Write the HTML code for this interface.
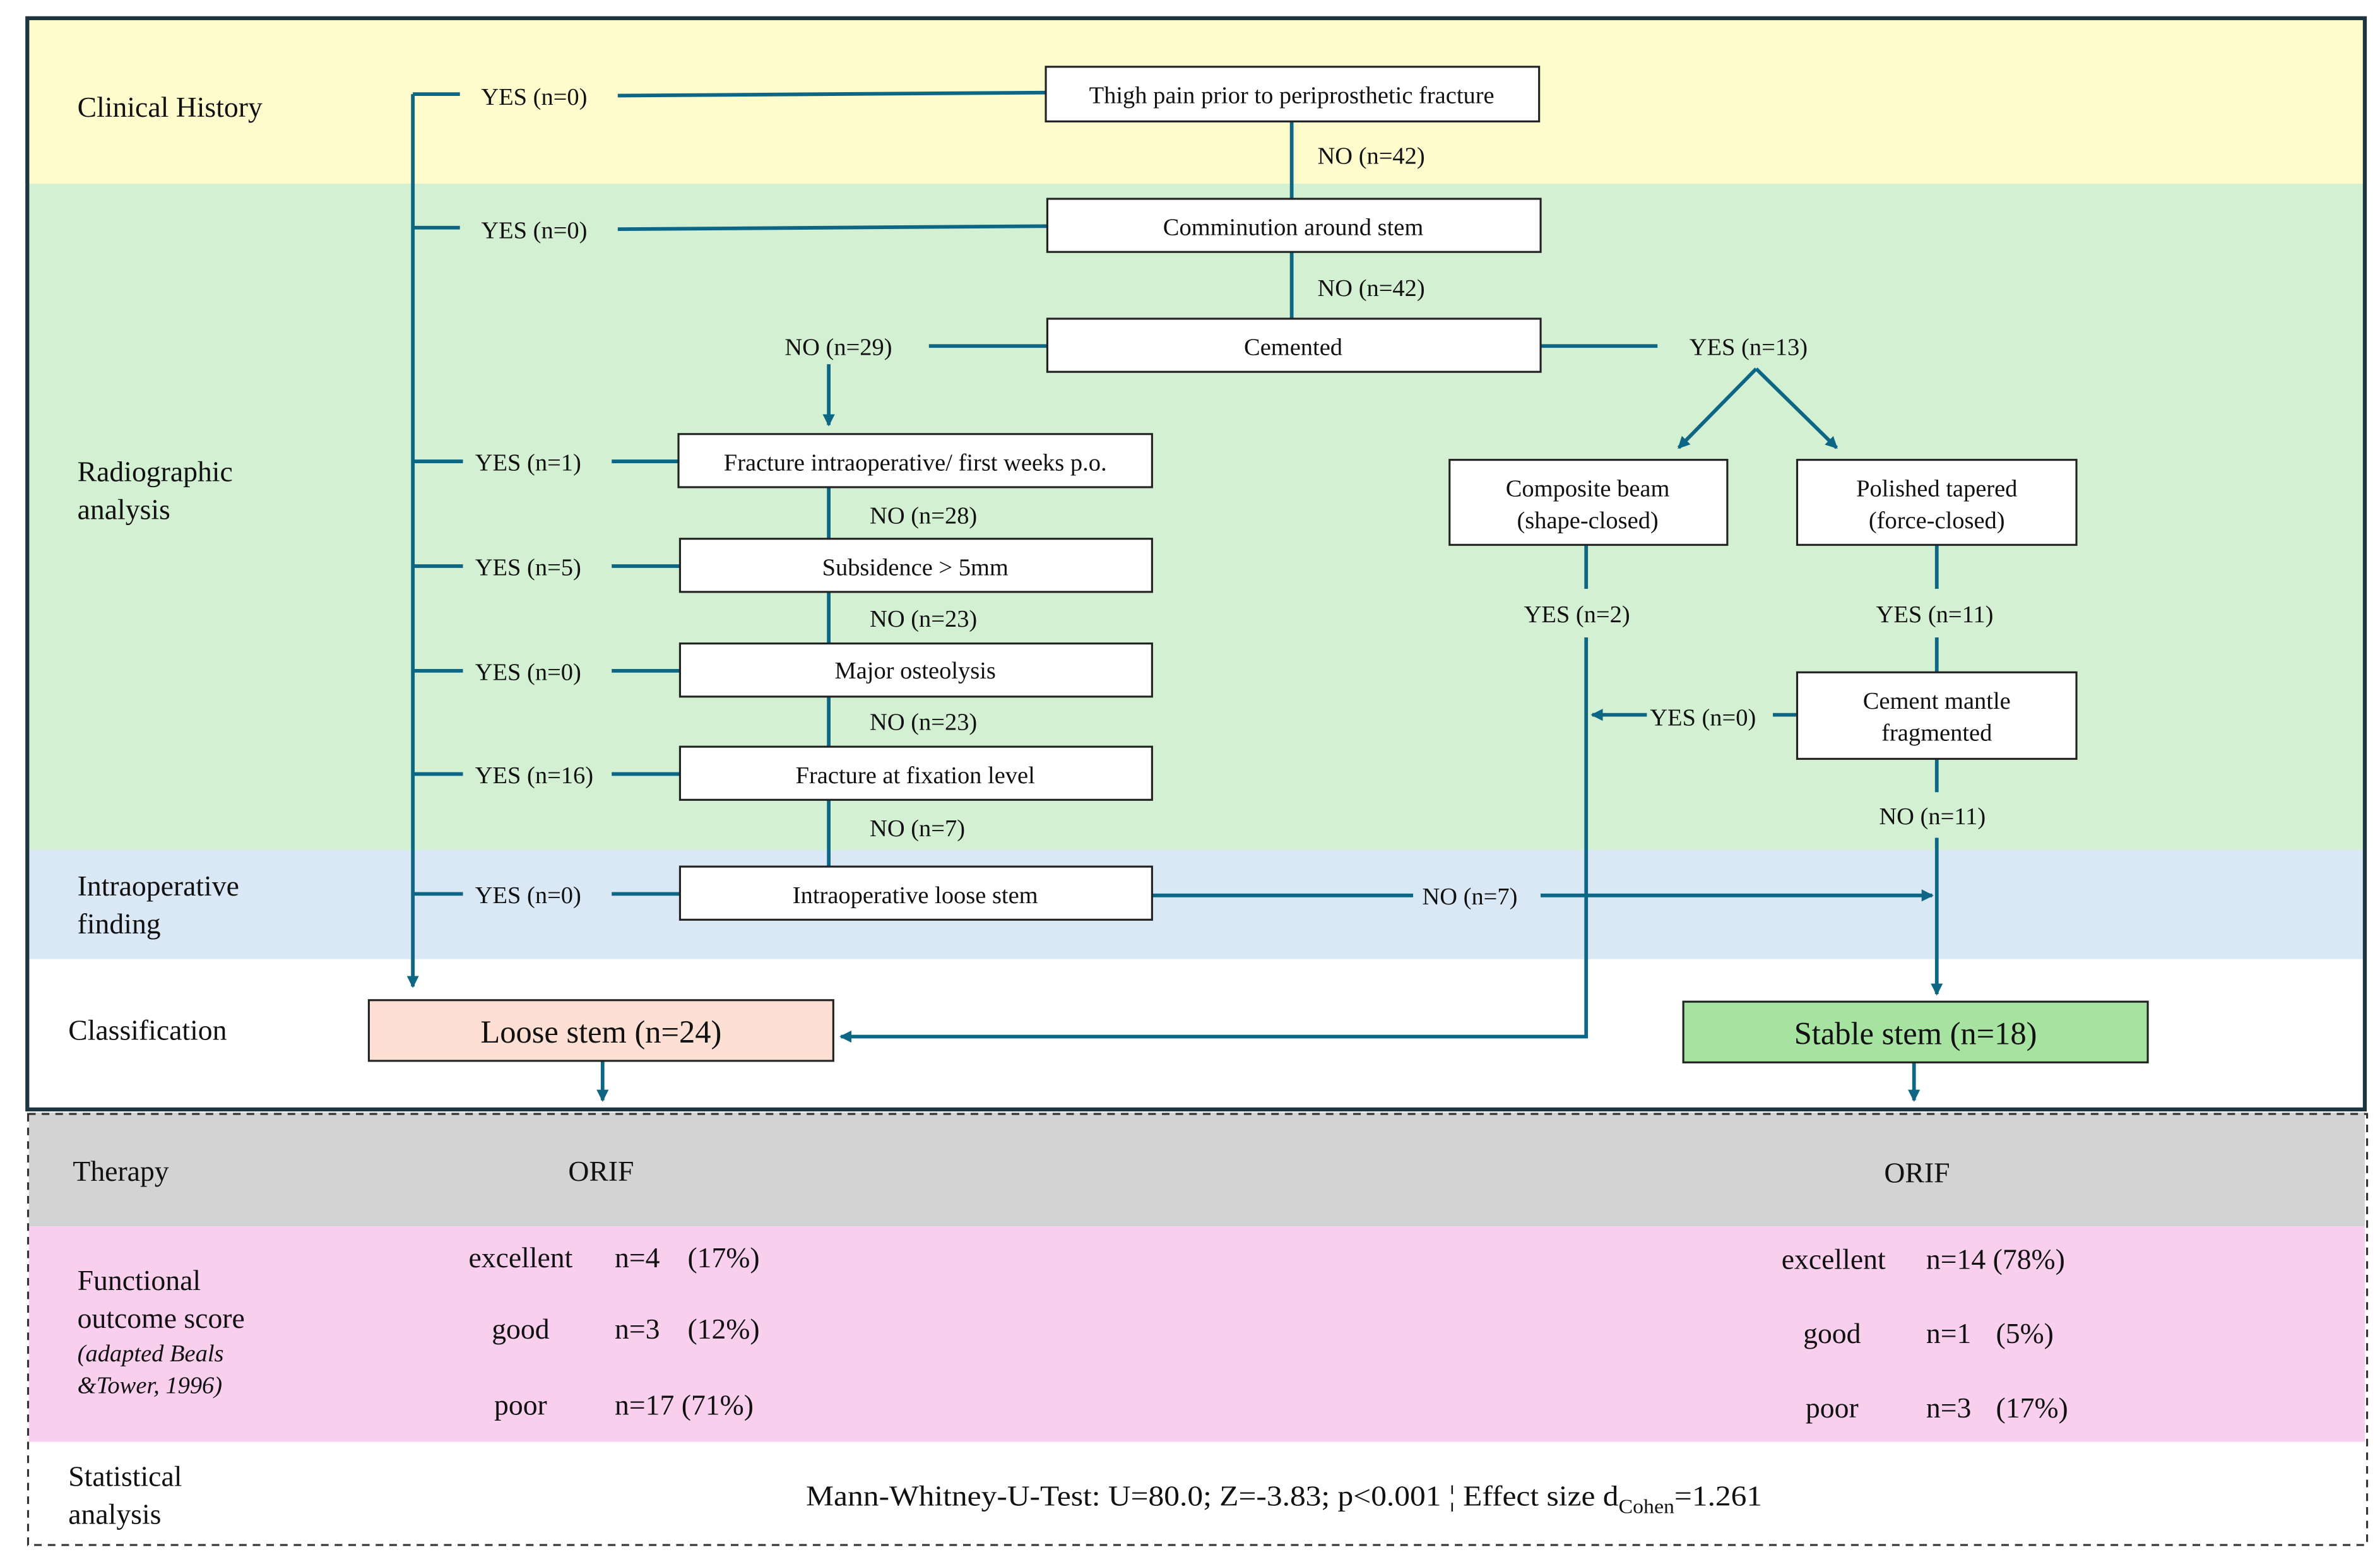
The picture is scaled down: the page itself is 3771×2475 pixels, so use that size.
<!DOCTYPE html>
<html><head><meta charset="utf-8"><style>
html,body{margin:0;padding:0;background:#fff}
svg{display:block}
svg text{font-family:"Liberation Serif","Times New Roman",Times,serif;fill:#111}
</style></head><body>
<svg width="3771" height="2475" viewBox="0 0 1568 1029.2" preserveAspectRatio="none" xmlns="http://www.w3.org/2000/svg" font-family="Liberation Serif, Times New Roman, serif">
<defs>
<marker id="a" markerWidth="8" markerHeight="8" refX="7" refY="4" orient="auto" markerUnits="userSpaceOnUse" viewBox="0 0 8 8"><path d="M0,0 L8,4 L0,8 z" fill="#0e6685"/></marker>
</defs>
<rect x="19" y="13" width="1538" height="108" fill="#fefccc"/>
<rect x="19" y="121" width="1538" height="439" fill="#d3f0d3"/>
<rect x="19" y="560" width="1538" height="72" fill="#dae8f5"/>
<rect x="19" y="733" width="1539" height="75" fill="#d3d3d3"/>
<rect x="19" y="808" width="1539" height="142" fill="#f8d0ee"/>
<rect x="18.5" y="734" width="1541" height="284" fill="none" stroke="#333" stroke-width="1.3" stroke-dasharray="5,4"/>
<rect x="18" y="12" width="1540" height="719" fill="none" stroke="#1d3540" stroke-width="2.6"/>

<g stroke="#0e6685" stroke-width="2.4" fill="none">
<path d="M272,62 V650" marker-end="url(#a)"/>
<path d="M272,62 H303 M407,63 L689,61"/>
<path d="M272,150 H303 M407,151 L690,149"/>
<path d="M272,304 H305 M403,304 H447"/>
<path d="M272,373 H305 M403,373 H448"/>
<path d="M272,442 H305 M403,442 H448"/>
<path d="M272,510 H305 M403,510 H448"/>
<path d="M272,589 H305 M403,589 H448"/>
<path d="M851,80 V131 M851,166 V210"/>
<path d="M612,228 H690 M1015,228 H1092"/>
<path d="M546,240 V280" marker-end="url(#a)"/>
<path d="M546,321 V355 M546,390 V424 M546,459 V492 M546,527 V571"/>
<path d="M1157,243 L1106,295" marker-end="url(#a)"/>
<path d="M1157,243 L1210,295" marker-end="url(#a)"/>
<path d="M759,590 H931 M1015,590 H1273" marker-end="url(#a)"/>
<path d="M1045,359 V388 M1045,420 V683 H554" marker-end="url(#a)"/>
<path d="M1276,359 V388 M1276,420 V443 M1276,500 V522"/>
<path d="M1276,552 V655" marker-end="url(#a)"/>
<path d="M1184,471 H1168"/>
<path d="M1085,471 H1049" marker-end="url(#a)"/>
<path d="M397,699 V725" marker-end="url(#a)"/>
<path d="M1261,700 V725" marker-end="url(#a)"/>
</g>

<g fill="#fff" stroke="#222" stroke-width="1.3">
<rect x="689" y="44" width="325" height="36"/>
<rect x="690" y="131" width="325" height="35"/>
<rect x="690" y="210" width="325" height="35"/>
<rect x="447" y="286" width="312" height="35"/>
<rect x="448" y="355" width="311" height="35"/>
<rect x="448" y="424" width="311" height="35"/>
<rect x="448" y="492" width="311" height="35"/>
<rect x="448" y="571" width="311" height="35"/>
<rect x="955" y="303" width="183" height="56"/>
<rect x="1184" y="303" width="184" height="56"/>
<rect x="1184" y="443" width="184" height="57"/>
<rect x="243" y="659" width="306" height="40" fill="#fde0d3"/>
<rect x="1109" y="660" width="306" height="40" fill="#a6e3a1"/>
</g>

<g font-size="16" text-anchor="middle">
<text x="851" y="68">Thigh pain prior to periprosthetic fracture</text>
<text x="852" y="155">Comminution around stem</text>
<text x="852" y="234">Cemented</text>
<text x="603" y="310">Fracture intraoperative/ first weeks p.o.</text>
<text x="603" y="379">Subsidence &gt; 5mm</text>
<text x="603" y="447">Major osteolysis</text>
<text x="603" y="516">Fracture at fixation level</text>
<text x="603" y="595">Intraoperative loose stem</text>
<text x="1046" y="327">Composite beam</text>
<text x="1046" y="348">(shape-closed)</text>
<text x="1276" y="327">Polished tapered</text>
<text x="1276" y="348">(force-closed)</text>
<text x="1276" y="467">Cement mantle</text>
<text x="1276" y="488">fragmented</text>
</g>
<g font-size="16">
<text x="317" y="69">YES (n=0)</text>
<text x="317" y="157">YES (n=0)</text>
<text x="313" y="310">YES (n=1)</text>
<text x="313" y="379">YES (n=5)</text>
<text x="313" y="448">YES (n=0)</text>
<text x="313" y="516">YES (n=16)</text>
<text x="313" y="595">YES (n=0)</text>
<text x="868" y="108">NO (n=42)</text>
<text x="868" y="195">NO (n=42)</text>
<text x="517" y="234">NO (n=29)</text>
<text x="1113" y="234">YES (n=13)</text>
<text x="573" y="345">NO (n=28)</text>
<text x="573" y="413">NO (n=23)</text>
<text x="573" y="481">NO (n=23)</text>
<text x="573" y="551">NO (n=7)</text>
<text x="937" y="596">NO (n=7)</text>
<text x="1004" y="410">YES (n=2)</text>
<text x="1236" y="410">YES (n=11)</text>
<text x="1087" y="478">YES (n=0)</text>
<text x="1238" y="543">NO (n=11)</text>
</g>
<g font-size="21" text-anchor="middle">
<text x="396" y="687">Loose stem (n=24)</text>
<text x="1262" y="688">Stable stem (n=18)</text>
</g>
<g font-size="19">
<text x="51" y="77">Clinical History</text>
<text x="51" y="317">Radiographic</text>
<text x="51" y="342">analysis</text>
<text x="51" y="590">Intraoperative</text>
<text x="51" y="615">finding</text>
<text x="45" y="685">Classification</text>
<text x="48" y="778">Therapy</text>
<text x="51" y="850">Functional</text>
<text x="51" y="875">outcome score</text>
<text x="51" y="897" font-size="16" font-style="italic">(adapted Beals</text>
<text x="51" y="918" font-size="16" font-style="italic">&amp;Tower, 1996)</text>
<text x="45" y="979">Statistical</text>
<text x="45" y="1004">analysis</text>
<text x="396" y="778" text-anchor="middle">ORIF</text>
<text x="1263" y="779" text-anchor="middle">ORIF</text>
<text x="343" y="835" text-anchor="middle">excellent</text>
<text x="343" y="882" text-anchor="middle">good</text>
<text x="343" y="932" text-anchor="middle">poor</text>
<text x="405" y="835">n=4</text><text x="453" y="835">(17%)</text>
<text x="405" y="882">n=3</text><text x="453" y="882">(12%)</text>
<text x="405" y="932">n=17 (71%)</text>
<text x="1208" y="836" text-anchor="middle">excellent</text>
<text x="1207" y="885" text-anchor="middle">good</text>
<text x="1207" y="934" text-anchor="middle">poor</text>
<text x="1269" y="836">n=14 (78%)</text>
<text x="1269" y="885">n=1</text><text x="1315" y="885">(5%)</text>
<text x="1269" y="934">n=3</text><text x="1315" y="934">(17%)</text>
<text x="531" y="992" textLength="630" lengthAdjust="spacingAndGlyphs">Mann-Whitney-U-Test: U=80.0; Z=-3.83; p&lt;0.001 ¦ Effect size d<tspan font-size="13" dy="5">Cohen</tspan><tspan dy="-5">=1.261</tspan></text>
</g>
</svg>
</body></html>
